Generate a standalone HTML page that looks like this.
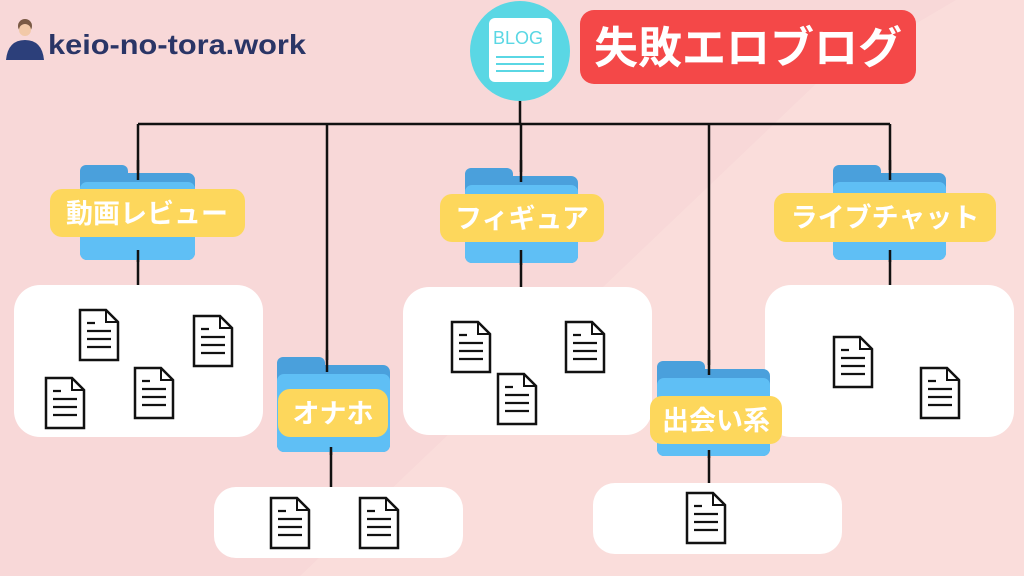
<!DOCTYPE html>
<html><head><meta charset="utf-8"><style>
html,body{margin:0;padding:0;width:1024px;height:576px;overflow:hidden}
text{font-family:"Liberation Sans","Noto Sans CJK JP",sans-serif;font-weight:bold}
</style></head><body>
<svg width="1024" height="576" viewBox="0 0 1024 576" xmlns="http://www.w3.org/2000/svg">
<defs>
<g id="doc">
<path d="M0,0 H26 L38,12 V50 H0 Z" fill="#fff" stroke="#111" stroke-width="2.5"/>
<path d="M26,0 V12 H38" fill="none" stroke="#111" stroke-width="2"/>
<path d="M7,13 H15 M7,21 H31 M7,29 H31 M7,37 H31" stroke="#111" stroke-width="2.2"/>
</g>
</defs>
<rect width="1024" height="576" fill="#f8d8d8"/>
<polygon points="820,80 1024,-40 1024,576 300,576" fill="#fadfdc" opacity="0.8"/>
<!-- logo -->
<circle cx="25" cy="26" r="7" fill="#7a5a45"/>
<circle cx="25" cy="30" r="6" fill="#f2c9a8"/>
<path d="M6,60 Q8,40 25,40 Q42,40 44,60 Z" fill="#2c3f7a"/>
<text x="48" y="54" font-size="28" fill="#2a3566" textLength="258" lengthAdjust="spacingAndGlyphs">keio-no-tora.work</text>
<!-- lines -->
<g stroke="#111" stroke-width="2.5" fill="none">
<path d="M520,95 V124 M138,124 H890 M138,124 V170 M327,124 V360 M521,124 V172 M709,124 V365 M890,124 V170 M138,255 V286 M331,445 V488 M521,250 V288 M709,450 V484 M890,250 V286"/>
</g>
<!-- blog circle -->
<circle cx="520" cy="51" r="50" fill="#5ad7e4"/>
<rect x="489" y="18" width="63" height="64" rx="6" fill="#fff"/>
<text x="493" y="44" font-size="18" fill="#5ad7e4" style="font-weight:normal">BLOG</text>
<path d="M496,57 H544 M496,64 H544 M496,71 H544" stroke="#5ad7e4" stroke-width="2"/>
<rect x="580" y="10" width="336" height="74" rx="14" fill="#f44848"/>
<text x="748" y="63" font-size="44" fill="#fff" text-anchor="middle">失敗エロブログ</text>
<!-- boxes -->
<g fill="#fff">
<rect x="14" y="285" width="249" height="152" rx="26"/>
<rect x="214" y="487" width="249" height="71" rx="22"/>
<rect x="403" y="287" width="249" height="148" rx="26"/>
<rect x="593" y="483" width="249" height="71" rx="22"/>
<rect x="765" y="285" width="249" height="152" rx="26"/>
</g>
<!-- folders -->
<g>
<rect x="80" y="165" width="48" height="24" rx="6" fill="#4aa0dc"/><rect x="80" y="173" width="115" height="87" rx="7" fill="#4aa0dc"/><rect x="80" y="182" width="115" height="78" rx="7" fill="#5fbff5"/>
<rect x="277" y="357" width="48" height="24" rx="6" fill="#4aa0dc"/><rect x="277" y="365" width="113" height="87" rx="7" fill="#4aa0dc"/><rect x="277" y="374" width="113" height="78" rx="7" fill="#5fbff5"/>
<rect x="465" y="168" width="48" height="24" rx="6" fill="#4aa0dc"/><rect x="465" y="176" width="113" height="87" rx="7" fill="#4aa0dc"/><rect x="465" y="185" width="113" height="78" rx="7" fill="#5fbff5"/>
<rect x="657" y="361" width="48" height="24" rx="6" fill="#4aa0dc"/><rect x="657" y="369" width="113" height="87" rx="7" fill="#4aa0dc"/><rect x="657" y="378" width="113" height="78" rx="7" fill="#5fbff5"/>
<rect x="833" y="165" width="48" height="24" rx="6" fill="#4aa0dc"/><rect x="833" y="173" width="113" height="87" rx="7" fill="#4aa0dc"/><rect x="833" y="182" width="113" height="78" rx="7" fill="#5fbff5"/>
</g>
<g stroke="#111" stroke-width="2.5"><path d="M138,160 V180 M327,350 V372 M521,160 V182 M709,350 V375 M890,160 V180 M138,250 V262 M331,447 V455 M521,250 V265 M709,450 V458 M890,250 V262"/></g>
<!-- labels -->
<g fill="#fdd75c">
<rect x="50" y="189" width="195" height="48" rx="12"/>
<rect x="278" y="389" width="110" height="48" rx="12"/>
<rect x="440" y="194" width="164" height="48" rx="12"/>
<rect x="650" y="396" width="132" height="48" rx="12"/>
<rect x="774" y="193" width="222" height="49" rx="12"/>
</g>
<g fill="#fff" font-size="27" text-anchor="middle">
<text x="147" y="223">動画レビュー</text>
<text x="333" y="423">オナホ</text>
<text x="522" y="228">フィギュア</text>
<text x="716" y="430">出会い系</text>
<text x="885" y="227">ライブチャット</text>
</g>
<!-- docs -->
<use href="#doc" x="80" y="310"/><use href="#doc" x="194" y="316"/><use href="#doc" x="46" y="378"/><use href="#doc" x="135" y="368"/>
<use href="#doc" x="452" y="322"/><use href="#doc" x="566" y="322"/><use href="#doc" x="498" y="374"/>
<use href="#doc" x="834" y="337"/><use href="#doc" x="921" y="368"/>
<use href="#doc" x="271" y="498"/><use href="#doc" x="360" y="498"/>
<use href="#doc" x="687" y="493"/>
</svg>
</body></html>
